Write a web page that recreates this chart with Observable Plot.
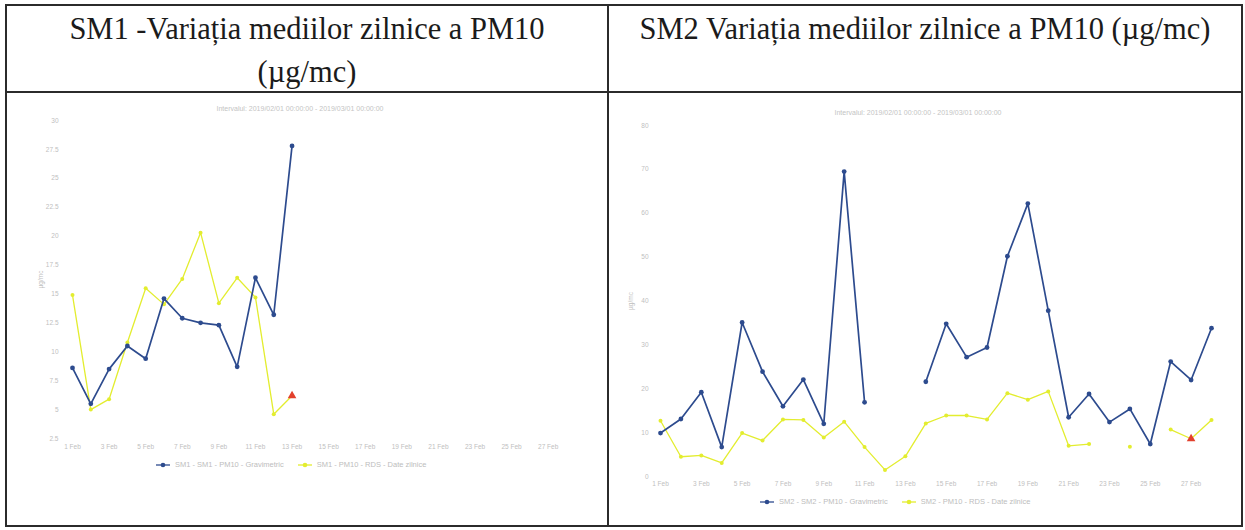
<!DOCTYPE html>
<html><head><meta charset="utf-8">
<script src="https://cdn.jsdelivr.net/npm/d3@7"></script>
<script src="https://cdn.jsdelivr.net/npm/@observablehq/plot@0.6"></script>
<style>
body{margin:0;background:#fff;}
#wrap{position:relative;width:1245px;height:530px;overflow:hidden;font-family:"Liberation Sans",Arial,sans-serif;}
.hl{position:absolute;background:#2b2b2b;}
.head{position:absolute;font-family:"Liberation Serif","Times New Roman",serif;font-size:30.5px;color:#1b1b1b;text-align:center;line-height:43px;white-space:nowrap;}
.chart{position:absolute;}
.ctitle{position:absolute;font-size:7px;color:#c4c4c4;white-space:nowrap;transform:translateX(-50%);}
.legend{position:absolute;font-size:7.5px;color:#bdbdbd;white-space:nowrap;display:flex;align-items:center;}
.legend span.item{display:inline-flex;align-items:center;margin-right:14px;}
.legend svg{margin-right:5px;}
</style>
</head><body>
<div id="wrap">
  <div class="hl" style="left:5px;top:4px;width:1238px;height:2px"></div>
  <div class="hl" style="left:5px;top:91px;width:1238px;height:2px"></div>
  <div class="hl" style="left:5px;top:525px;width:1238px;height:2px"></div>
  <div class="hl" style="left:5px;top:4px;width:2px;height:523px"></div>
  <div class="hl" style="left:607px;top:4px;width:2px;height:523px"></div>
  <div class="hl" style="left:1241px;top:4px;width:2px;height:523px"></div>
  <div class="head" style="left:7px;top:8px;width:600px">SM1 -Variația mediilor zilnice a PM10<br>(µg/mc)</div>
  <div class="head" style="left:609px;top:8px;width:632px">SM2 Variația mediilor zilnice a PM10 (µg/mc)</div>
  <div id="c1" class="chart" style="left:10px;top:93px"></div>
  <div id="c2" class="chart" style="left:609px;top:93px"></div>
  <div class="ctitle" style="left:300px;top:105px">Intervalul: 2019/02/01 00:00:00 - 2019/03/01 00:00:00</div>
  <div class="ctitle" style="left:918px;top:109px">Intervalul: 2019/02/01 00:00:00 - 2019/03/01 00:00:00</div>
  <div id="lg1" class="legend" style="left:156px;top:460px"></div>
  <div id="lg2" class="legend" style="left:760px;top:497px"></div>
</div>
<script>
// ---- data ----
const days = [1,2,3,4,5,6,7,8,9,10,11,12,13,14,15,16,17,18,19,20,21,22,23,24,25,26,27,28];
const xTickDays = [1,3,5,7,9,11,13,15,17,19,21,23,25,27];
const sm1YTicks = [2.5,5,7.5,10,12.5,15,17.5,20,22.5,25,27.5,30];
const sm2YTicks = [0,10,20,30,40,50,60,70,80];

const sm1Names = ["SM1 - SM1 - PM10 - Gravimetric", "SM1 - PM10 - RDS - Date zilnice"];
const sm2Names = ["SM2 - SM2 - PM10 - Gravimetric", "SM2 - PM10 - RDS - Date zilnice"];

// SM1 (Feb 1 .. Feb 13)
const sm1Blue   = [8.6, 5.5, 8.5, 10.5, 9.4, 14.6, 12.9, 12.5, 12.3, 8.7, 16.4, 13.2, 27.8];
const sm1Yellow = [14.9, 5.0, 5.9, 10.8, 15.5, 14.1, 16.3, 20.3, 14.2, 16.4, 14.7, 4.6, 6.2];
const sm1FlagDays = [13];

// SM2 (Feb 1 .. Feb 28), null = missing
const sm2Blue   = [9.9, 13.1, 19.2, 6.7, 35.1, 23.9, 16.0, 22.1, 12.0, 69.5, 16.9, null, null, 21.6,
                   34.8, 27.2, 29.4, 50.2, 62.2, 37.8, 13.5, 18.8, 12.4, 15.4, 7.4, 26.2, 22.0, 33.8];
const sm2Yellow = [12.7, 4.5, 4.8, 3.1, 9.9, 8.2, 13.0, 12.9, 8.9, 12.5, 6.7, 1.5, 4.6, 12.1,
                   13.9, 13.9, 13.0, 19.0, 17.5, 19.4, 7.0, 7.4, null, 6.8, null, 10.7, 8.6, 12.9];
const sm2FlagDays = [27];

const BLUE = "#2d4b8e", YELLOW = "#e3ed2f", RED = "#e2402c";

function rows(blue, yellow) {
  return days.map((d, i) => ({day: d, a: blue[i] ?? null, b: yellow[i] ?? null}));
}

function chart(data, flags, opt) {
  const flagRows = data.filter(r => flags.includes(r.day));
  return Plot.plot({
    width: opt.width, height: 430,
    marginLeft: opt.ml, marginRight: opt.mr, marginTop: opt.mt, marginBottom: opt.mb,
    style: {background: "transparent", fontSize: "6.5px", color: "#c0c0c0", fontFamily: "Liberation Sans, Arial, sans-serif", overflow: "visible"},
    x: {domain: [1, 28], ticks: xTickDays, tickFormat: d => `${d} Feb`, tickSize: 0, tickPadding: opt.xpad, label: null},
    y: {domain: opt.ydom, ticks: opt.yticks, tickFormat: d => String(d), tickSize: 0, tickPadding: opt.ypad, label: "µg/mc", labelAnchor: "center", labelArrow: "none", labelOffset: opt.lo},
    marks: [
      Plot.line(data, {x: "day", y: "b", stroke: YELLOW, strokeWidth: 1.3}),
      Plot.dot(data, {x: "day", y: "b", fill: YELLOW, r: 2}),
      Plot.line(data, {x: "day", y: "a", stroke: BLUE, strokeWidth: 1.7}),
      Plot.dot(data, {x: "day", y: "a", fill: BLUE, r: 2.4}),
      Plot.dot(flagRows, {x: "day", y: "b", symbol: "triangle", fill: RED, r: 3.2})
    ]
  });
}

document.getElementById("c1").append(chart(rows(sm1Blue, sm1Yellow), sm1FlagDays,
  {width: 596, ml: 62, mr: 40, mt: 27, mb: 85, ydom: [2.5, 30], yticks: sm1YTicks, xpad: 6, ypad: 14, lo: 34}));
document.getElementById("c2").append(chart(rows(sm2Blue, sm2Yellow), sm2FlagDays,
  {width: 630, ml: 51, mr: 28, mt: 32, mb: 47, ydom: [0, 80], yticks: sm2YTicks, xpad: 5, ypad: 12, lo: 32}));

function legend(el, names) {
  const mk = c => `<svg width="14" height="6"><line x1="0" y1="3" x2="14" y2="3" stroke="${c}" stroke-width="1.3"/><circle cx="7" cy="3" r="2.3" fill="${c}"/></svg>`;
  document.getElementById(el).innerHTML =
    `<span class="item">${mk(BLUE)}${names[0]}</span><span class="item">${mk(YELLOW)}${names[1]}</span>`;
}
legend("lg1", sm1Names);
legend("lg2", sm2Names);
</script>
</body></html>
